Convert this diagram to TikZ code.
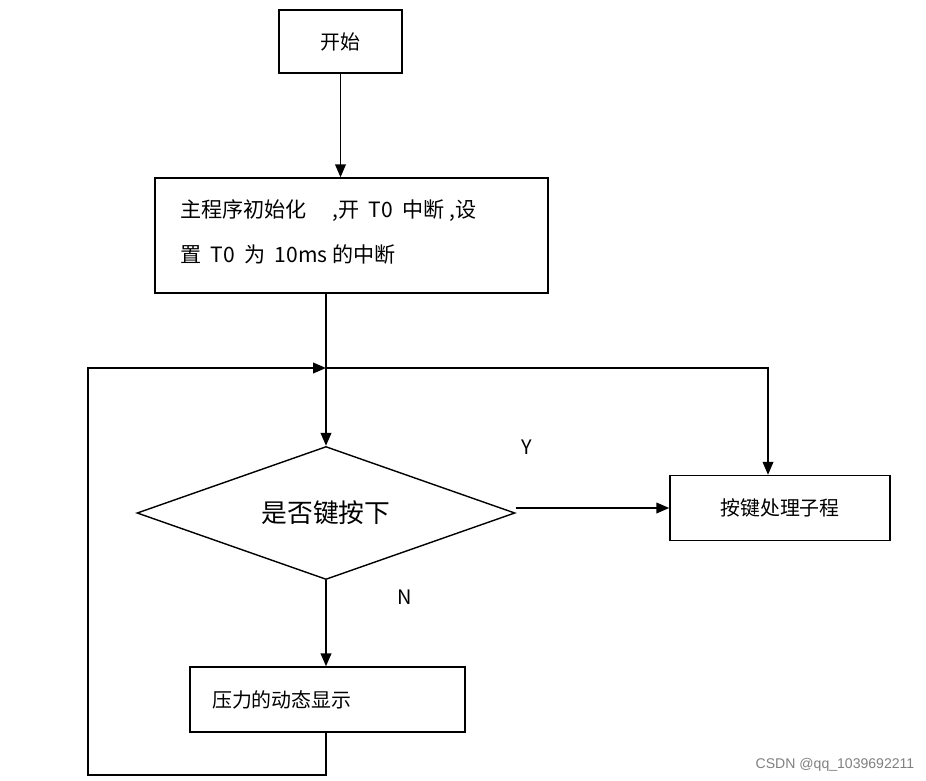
\documentclass[tikz,border=0pt]{standalone}
\usepackage{fontspec}
\setmainfont{Liberation Sans}
\newfontfamily\cjk{Noto Sans CJK SC}
\usetikzlibrary{shapes.geometric,positioning,arrows.meta}
\begin{document}
\begin{tikzpicture}[y=-0.03cm, x=0.03cm,font=\cjk\fontsize{17}{24}\selectfont,
    box/.style={draw,line width=1.2pt,inner sep=0pt},
    flow/.style={line width=1.6pt,-{Triangle[length=11pt,width=9pt]}},
    line/.style={line width=1.6pt}]
  \useasboundingbox (0,0) rectangle (926,780);
  %% boxes
  \node[box,minimum width=123*0.03cm,minimum height=63*0.03cm] (start) at (340.5,41.5) {开始};
  \node[box,minimum width=393*0.03cm,minimum height=115*0.03cm] (init) at (351.5,235.5) {};
  \node[anchor=west,align=left,font=\cjk\fontsize{18}{38}\selectfont] at (176,232) {主程序初始化\quad\ ,开\ \ T0\ \ 中断\ ,设\\置\ \ T0\ \ 为\ \ 10ms\ 的中断};
  \node[draw,line width=1.2pt,diamond,aspect=2.84,minimum width=378*0.03cm,minimum height=133*0.03cm,inner sep=0pt,
        font=\cjk\fontsize{22}{24}\selectfont] (key) at (326,513) {是否键按下};
  \node[box,minimum width=220*0.03cm,minimum height=65*0.03cm] (proc) at (780,508) {按键处理子程};
  \node[box,minimum width=275*0.03cm,minimum height=65*0.03cm] (disp) at (327.5,699.5) {};
  \node[anchor=west] at (208,700) {压力的动态显示};
  %% labels
  \node (yes) at (527,447) {Y};
  \node (no) at (405,597) {N};
  \node[text=gray,font=\fontsize{12}{14}\selectfont] (mark) at (835,765) {CSDN @qq\_1039692211};
  %% junctions
  \coordinate (j) at (326,368);
  \coordinate (jr) at (768,368);
  \coordinate (b1) at (326,775);
  \coordinate (b2) at (88,775);
  \coordinate (b3) at (88,368);
  %% connectors
  \draw[flow] (start.south) -- (init.north -| start);
  \draw[line] (init.south -| j) -- (j);
  \draw[flow] (j) -- (key.north);
  \draw[flow] (j) -- (jr) -- (proc.north -| jr);
  \draw[flow] (key.east |- proc) -- (proc.west);
  \draw[flow] (key.south) -- (disp.north -| key.south);
  \draw[flow] (disp.south -| b1) -- (b1) -- (b2) -- (b3) -- (j);
\end{tikzpicture}
\end{document}
